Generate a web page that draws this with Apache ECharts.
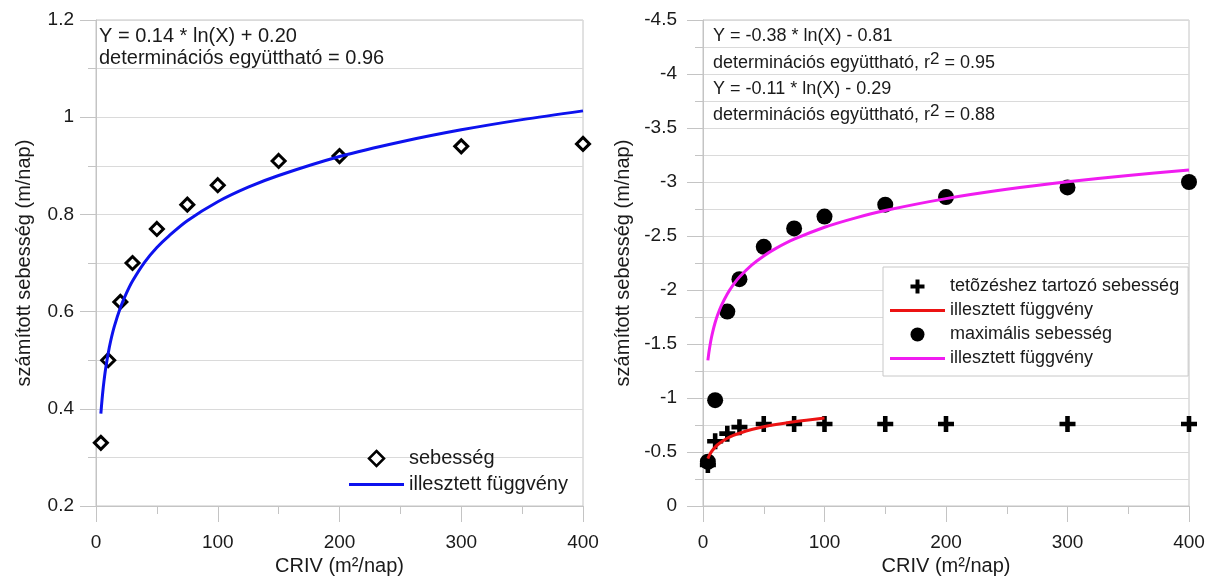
<!DOCTYPE html>
<html>
<head>
<meta charset="utf-8">
<script src="https://cdn.jsdelivr.net/npm/echarts@6/dist/echarts.min.js"></script>
<style>
  html, body { margin: 0; padding: 0; background: #ffffff; }
  #chart { width: 1215px; height: 576px; }
</style>
</head>
<body>
<div id="chart"></div>
<script>
// CRIV values (m2/nap) at which the velocities were computed
const criv = [4, 10, 20, 30, 50, 75, 100, 150, 200, 300, 400];

// left panel: computed velocity (m/nap)
const sebesseg = [0.33, 0.50, 0.62, 0.70, 0.77, 0.82, 0.86, 0.91, 0.92, 0.94, 0.945];

// right panel: velocity at the peak and maximum velocity (m/nap)
const tetozes = [-0.38, -0.60, -0.67, -0.73, -0.76, -0.76, -0.76, -0.76, -0.76, -0.76, -0.76];
const maximalis = [-0.41, -0.98, -1.80, -2.10, -2.40, -2.57, -2.68, -2.79, -2.86, -2.95, -3.00];

// fitted logarithmic curves, sampled along CRIV
const fitX = [4, 5, 6, 7, 8, 10, 12, 15, 20, 25, 30, 40, 50, 60, 75, 100, 125, 150, 200, 250, 300, 350, 400];
const fitBlue = [0.390, 0.420, 0.445, 0.466, 0.484, 0.514, 0.539, 0.569, 0.608, 0.638, 0.663, 0.702, 0.732,
                 0.756, 0.787, 0.826, 0.856, 0.880, 0.919, 0.949, 0.974, 0.995, 1.013];
const fitMagenta = [-1.348, -1.433, -1.503, -1.562, -1.613, -1.699, -1.769, -1.854, -1.964, -2.050, -2.120,
                    -2.230, -2.315, -2.385, -2.470, -2.581, -2.666, -2.736, -2.846, -2.932, -3.002, -3.061, -3.112];
const fitRedX = [4, 5, 6, 7, 8, 10, 12, 15, 20, 25, 30, 40, 50, 60, 75, 100];
const fitRed = [-0.438, -0.464, -0.486, -0.504, -0.519, -0.545, -0.567, -0.593, -0.627, -0.653, -0.674,
                -0.708, -0.734, -0.755, -0.781, -0.815];

// axis ticks
const xTicks = [0, 100, 200, 300, 400];
const leftYTicks = [0.2, 0.4, 0.6, 0.8, 1.0, 1.2];
const rightYTicks = [-4.5, -4, -3.5, -3, -2.5, -2, -1.5, -1, -0.5, 0];

const pairs = (xs, ys) => xs.map((x, i) => [x, ys[i]]);

const FONT = '"Liberation Sans", Arial, sans-serif';
const TEXT = '#1a1a1a';
const AXIS = '#c4c4c4';
const GRID = '#dadada';
const PLUS = 'path://M5,0h4v5h5v4h-5v5h-4v-5h-5v-4h5z';
const DIAMOND = 'path://M7,0L14,7L7,14L0,7Z';
// legend swatch for the fitted curves: a plain stroke across the icon box
const LINE_ICON = 'path://M0,0H55V3H0Z';

function xAxisOf(gridIndex) {
  return {
    type: 'value', gridIndex,
    min: xTicks[0], max: xTicks[xTicks.length - 1], interval: xTicks[1] - xTicks[0],
    name: 'CRIV (m²/nap)', nameLocation: 'middle', nameGap: 44,
    nameTextStyle: { fontFamily: FONT, fontSize: 20, color: TEXT },
    axisLine: { show: true, lineStyle: { color: AXIS, width: 1 } },
    axisTick: { show: true, length: 16, lineStyle: { color: AXIS } },
    minorTick: { show: true, splitNumber: 2, length: 8, lineStyle: { color: AXIS } },
    splitLine: { show: false },
    axisLabel: { fontFamily: FONT, fontSize: 19, color: TEXT, margin: 27 }
  };
}

function yAxisOf(gridIndex, ticks, inverse, nameGap, labelMargin) {
  return {
    type: 'value', gridIndex, inverse,
    min: ticks[0], max: ticks[ticks.length - 1], interval: ticks[1] - ticks[0],
    name: 'számított sebesség (m/nap)', nameLocation: 'middle', nameGap,
    nameTextStyle: { fontFamily: FONT, fontSize: 20, color: TEXT },
    axisLine: { show: true, lineStyle: { color: AXIS, width: 1 } },
    axisTick: { show: true, length: 16, lineStyle: { color: AXIS } },
    minorTick: { show: true, splitNumber: 2, length: 8, lineStyle: { color: AXIS } },
    splitLine: { show: true, lineStyle: { color: GRID, width: 1 } },
    minorSplitLine: { show: true, lineStyle: { color: GRID, width: 1 } },
    axisLabel: { fontFamily: FONT, fontSize: 19, color: TEXT, margin: labelMargin }
  };
}

function note(x, y, text, size) {
  return {
    type: 'text', left: x, top: y,
    style: {
      text, fill: TEXT, font: size + 'px ' + FONT,
      rich: {
        n: { fontFamily: FONT, fontSize: size, lineHeight: 24, fill: TEXT },
        s: { fontFamily: FONT, fontSize: size - 1, lineHeight: 16, verticalAlign: 'top', fill: TEXT }
      }
    }
  };
}

const chart = echarts.init(document.getElementById('chart'), null, { renderer: 'canvas' });

chart.setOption({
  animation: false,
  backgroundColor: '#ffffff',
  grid: [
    { left: 96, top: 20, width: 487, height: 486, outerBoundsMode: 'none', containLabel: false,
      show: true, borderColor: AXIS, borderWidth: 1, backgroundColor: 'transparent' },
    { left: 703, top: 20, width: 486, height: 486, outerBoundsMode: 'none', containLabel: false,
      show: true, borderColor: AXIS, borderWidth: 1, backgroundColor: 'transparent' }
  ],
  xAxis: [xAxisOf(0), xAxisOf(1)],
  yAxis: [
    yAxisOf(0, leftYTicks, false, 62, 22),
    yAxisOf(1, rightYTicks, true, 70, 26)
  ],
  legend: [
    {
      orient: 'vertical', left: 349, top: 448, padding: 0, itemGap: 5,
      itemWidth: 55, itemHeight: 15, selectedMode: false, symbolKeepAspect: true,
      textStyle: { fontFamily: FONT, fontSize: 20, color: TEXT, lineHeight: 21 },
      formatter: n => n.trim(),
      data: [
        { name: 'sebesség', icon: DIAMOND, itemStyle: { color: '#ffffff', borderColor: '#000000', borderWidth: 2.5, opacity: 1 } },
        { name: 'illesztett függvény', icon: LINE_ICON }
      ]
    },
    {
      orient: 'vertical', left: 883, top: 267, padding: [10, 9, 8, 7], itemGap: 5,
      itemWidth: 55, itemHeight: 14, selectedMode: false, symbolKeepAspect: true,
      borderColor: '#c8c8c8', borderWidth: 1, backgroundColor: '#ffffff',
      textStyle: { fontFamily: FONT, fontSize: 18, color: TEXT, lineHeight: 19 },
      formatter: n => n.trim(),
      data: [
        { name: 'tetõzéshez tartozó sebesség', icon: PLUS },
        { name: 'illesztett függvény ', icon: LINE_ICON },
        { name: 'maximális sebesség', icon: 'circle' },
        { name: 'illesztett függvény  ', icon: LINE_ICON }
      ]
    }
  ],
  graphic: [
    note(99, 26, 'Y = 0.14 * ln(X) + 0.20', 20),
    note(99, 48, 'determinációs együttható = 0.96', 20),
    note(713, 27, 'Y = -0.38 * ln(X) - 0.81', 18),
    note(713, 51, '{n|determinációs együttható, r}{s|2}{n| = 0.95}', 18),
    note(713, 80, 'Y = -0.11 * ln(X) - 0.29', 18),
    note(713, 103, '{n|determinációs együttható, r}{s|2}{n| = 0.88}', 18)
  ],
  series: [
    {
      name: 'sebesség', type: 'scatter', xAxisIndex: 0, yAxisIndex: 0,
      data: pairs(criv, sebesseg),
      symbol: 'diamond', symbolSize: 13,
      itemStyle: { color: '#ffffff', borderColor: '#000000', borderWidth: 3, opacity: 1 }
    },
    {
      name: 'illesztett függvény', type: 'line', xAxisIndex: 0, yAxisIndex: 0,
      data: pairs(fitX, fitBlue), smooth: 0.3, symbol: 'none',
      lineStyle: { color: '#0d12ee', width: 3 }, itemStyle: { color: '#0d12ee' }
    },
    {
      name: 'tetõzéshez tartozó sebesség', type: 'scatter', xAxisIndex: 1, yAxisIndex: 1,
      data: pairs(criv, tetozes),
      symbol: PLUS, symbolSize: 16, itemStyle: { color: '#000000', opacity: 1 }
    },
    {
      name: 'maximális sebesség', type: 'scatter', xAxisIndex: 1, yAxisIndex: 1,
      data: pairs(criv, maximalis),
      symbol: 'circle', symbolSize: 16, itemStyle: { color: '#000000', opacity: 1 }
    },
    {
      name: 'illesztett függvény ', type: 'line', xAxisIndex: 1, yAxisIndex: 1,
      data: pairs(fitRedX, fitRed), smooth: 0.3, symbol: 'none',
      lineStyle: { color: '#ec1313', width: 3 }, itemStyle: { color: '#ec1313' }
    },
    {
      name: 'illesztett függvény  ', type: 'line', xAxisIndex: 1, yAxisIndex: 1,
      data: pairs(fitX, fitMagenta), smooth: 0.3, symbol: 'none',
      lineStyle: { color: '#f01cf0', width: 3 }, itemStyle: { color: '#f01cf0' }
    }
  ]
});
</script>
</body>
</html>
